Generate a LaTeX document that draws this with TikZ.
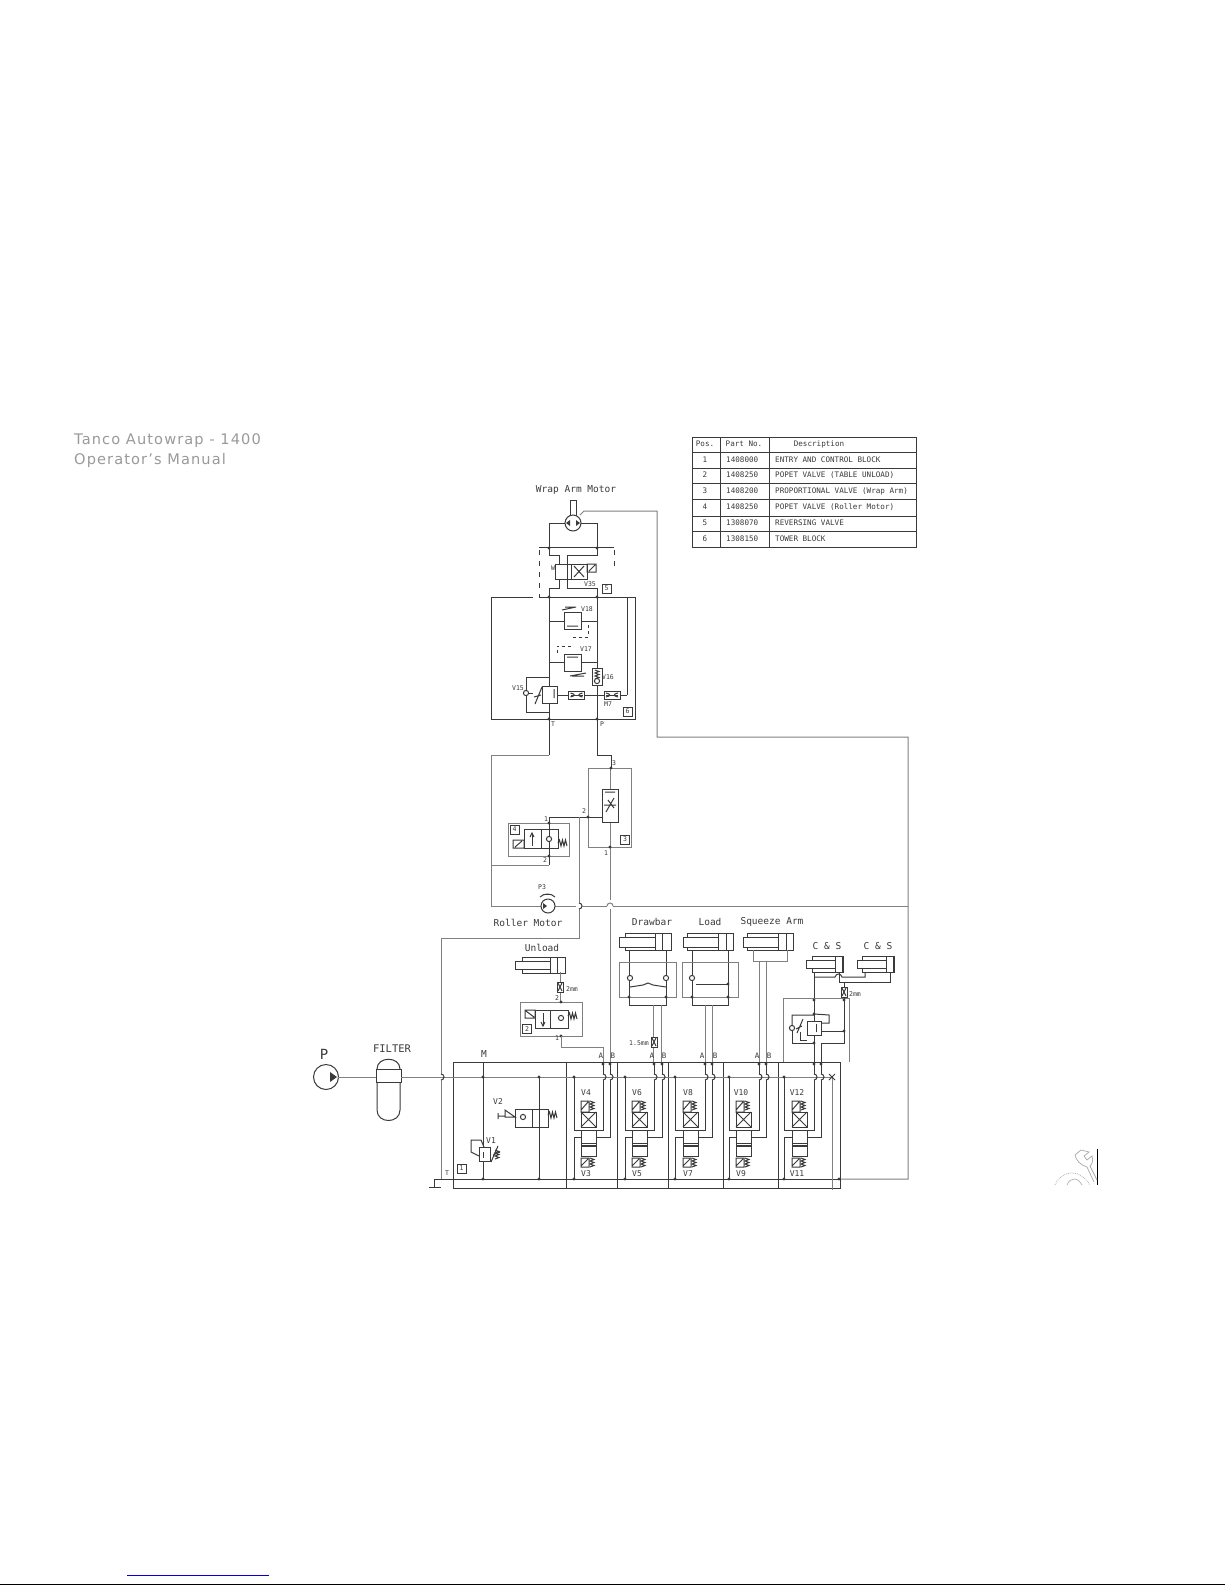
\documentclass[tikz,border=0pt]{standalone}
\usepackage{fontspec}
\setmainfont{DejaVu Sans}
\newfontfamily\cadfont{DejaVu Sans Mono}
\newfontfamily\headfont[LetterSpace=7.5]{DejaVu Sans}
\usepackage{tikz}
\definecolor{wirecol}{HTML}{3A3A3A}
\definecolor{palecol}{HTML}{808080}
\definecolor{headcol}{HTML}{9A9A9A}
\tikzset{
  wire/.style={draw=wirecol,line width=1pt},
  pale/.style={draw=palecol,line width=1pt},
  dashwire/.style={draw=wirecol,line width=1pt,dash pattern=on 5pt off 6pt},
  lbl/.style={font=\cadfont\fontsize{9.5}{10}\selectfont,text=wirecol,inner sep=0pt},
  small/.style={font=\cadfont\fontsize{6.5}{7}\selectfont,text=wirecol,inner sep=0pt},
  tab/.style={font=\cadfont\fontsize{7.6}{8}\selectfont,text=wirecol,inner sep=0pt},
  posbox/.style={draw=wirecol,line width=.8pt,fill=white,font=\cadfont\fontsize{6.5}{7}\selectfont,text=wirecol,inner sep=0pt,minimum size=9pt},
  head/.style={font=\headfont\fontsize{14.6}{16}\selectfont,text=headcol,inner sep=0pt,anchor=base west}
}
% small symbols, all in picture pixels
\newcommand{\jdot}[2]{\fill[wirecol] (#1,#2) circle (1.7);}
\newcommand{\hopv}[2]{\draw[wire] (#1,#2-3) .. controls (#1+4,#2-3) and (#1+4,#2+3) .. (#1,#2+3);}
\newcommand{\ballat}[2]{\draw[wire,fill=white] (#1,#2) circle (2.6);}
\newcommand{\springh}[2]{\draw[wire] (#1,#2) -- ++(1.5,-3) -- ++(1.5,6) -- ++(1.5,-6) -- ++(1.5,6) -- ++(1.5,-6) -- ++(1.5,6);}
\newcommand{\springv}[2]{\draw[wire] (#1,#2) -- ++(4,1.5) -- ++(-4,1.5) -- ++(4,1.5) -- ++(-4,1.5) -- ++(4,1.5) -- ++(-4,1.5);}
\newcommand{\orifice}[2]{\draw[wire,fill=white] (#1-3,#2-5) rectangle (#1+3,#2+5);
  \draw[wire] (#1-2,#2-4) -- (#1+2,#2+4) (#1+2,#2-4) -- (#1-2,#2+4);}
\newcommand{\orificeh}[2]{\draw[wire,fill=white] (#1-8,#2-4) rectangle (#1+8,#2+4);
  \draw[wire] (#1-6,#2-2) .. controls (#1-1,#2-1) and (#1-1,#2+1) .. (#1-6,#2+2)
    (#1+6,#2-2) .. controls (#1+1,#2-1) and (#1+1,#2+1) .. (#1+6,#2+2);
  \draw[wire] (#1-6,#2) -- (#1+6,#2);}
% cylinder: left of rod, left of body, piston x, right of body, top y
\newcommand{\cylinder}[5]{\draw[wire] (#2,#5) rectangle (#4,#5+16);
  \draw[wire,fill=white] (#1,#5+4) rectangle (#3,#5+12);
  \draw[wire] (#3,#5) -- (#3,#5+16) (#3+7,#5) -- (#3+7,#5+16);}
\begin{document}
\begin{tikzpicture}[x=1pt,y=-1pt]
\useasboundingbox (0,0) rectangle (1225,1585);
\fill[white] (0,0) rectangle (1225,1585);
% page furniture
\node[head] (headone) at (74,444) {Tanco Autowrap - 1400};
\node[head] (headtwo) at (74,464) {Operator’s Manual};
\draw[blue!85!black,line width=1pt] (127,1575) -- (269,1575);
\draw[black,line width=1pt] (0,1584.5) -- (1225,1584.5);
\draw[black,line width=1pt] (1097,1149) -- (1097,1185);
\draw[gray!70,line width=.7pt] (1075,1155) -- (1081,1150) -- (1089,1152) -- (1084,1156) -- (1087,1160) -- (1092,1156)
  .. controls (1094,1162) and (1091,1165) .. (1090,1166) -- (1097,1180) (1087,1167) -- (1094,1182)
  (1087,1167) .. controls (1080,1165) and (1076,1160) .. (1075,1155);
\draw[gray!60,line width=.8pt,densely dotted] (1055,1185) .. controls (1060,1172) and (1078,1166) .. (1090,1185);
\draw[gray!60,line width=.7pt] (1067,1185) .. controls (1070,1177) and (1078,1177) .. (1082,1185);
% parts table
\draw[wire] (692,437) rectangle (916,547);
\foreach \ty in {452,468,483,499,516,531} \draw[wire] (692,\ty) -- (916,\ty);
\foreach \tx in {720,769} \draw[wire] (\tx,437) -- (\tx,547);
\node[tab] (tabpos) at (705,444) {Pos.};
\node[tab] (tabno) at (744,444) {Part No.};
\node[tab] (tabdesc) at (819,444) {Description};
\foreach \ty/\pos/\partno/\desc in {460/1/1408000/ENTRY AND CONTROL BLOCK,475/2/1408250/POPET VALVE (TABLE UNLOAD),491/3/1408200/PROPORTIONAL VALVE (Wrap Arm),507/4/1408250/POPET VALVE (Roller Motor),523/5/1308070/REVERSING VALVE,539/6/1308150/TOWER BLOCK}{
  \node[tab] (pos\pos) at (705,\ty) {\pos};
  \node[tab,anchor=west] (part\pos) at (726,\ty) {\partno};
  \node[tab,anchor=west] (desc\pos) at (775,\ty) {\desc};
}
% wrap arm motor
\node[lbl] (lblwrap) at (576,490) {Wrap Arm Motor};
\draw[wire] (570,500) rectangle (576,515);
\draw[wire] (549,555) -- (549,523) -- (597,523) -- (597,555);
\draw[wire,fill=white] (573,523) circle (8);
\fill[wirecol] (570,520) -- (566,523) -- (570,526) -- cycle (576,520) -- (580,523) -- (576,526) -- cycle;
\draw[pale] (580,515) -- (584,511) -- (657,511) -- (657,737) -- (908,737) -- (908,1179) -- (841,1179);
% reversing valve V35
\draw[wire] (539,547) -- (614,547);
\draw[dashwire] (539,550) -- (539,597) (614,550) -- (614,567);
\draw[wire] (549,548) -- (549,555) -- (559,555) -- (559,564) (567,555) -- (597,555) -- (597,548);
\draw[wire] (555,564) rectangle (587,579) (571,564) -- (571,579);
\draw[wire] (574,566) -- (584,577) (584,566) -- (574,577);
\draw[wire] (587,564) rectangle (596,572) (589,571) -- (595,565);
\draw[wire] (559,579) -- (559,588) -- (549,588) -- (549,597);
\draw[wire] (567,555) -- (567,588) -- (597,588) -- (597,597);
\node[small] (lblvw) at (553,568) {W};
\node[small] (lblv35) at (590,584) {V35};
\node[posbox] (pos5box) at (606.5,588.5) {5};
% tower block
\draw[wire] (533,597) -- (491,597) -- (491,719) -- (635,719) -- (635,597) -- (539,597);
\draw[wire] (549,597) -- (549,755) (597,597) -- (597,668) (597,685) -- (597,755);
\draw[wire] (627,597) -- (627,695);
\foreach \jx in {549,597} {\jdot{\jx}{548} \jdot{\jx}{597} \jdot{\jx}{719}}
% V18
\draw[wire] (549,621) -- (564,621) (581,621) -- (597,621);
\draw[wire,fill=white] (564,612) rectangle (581,629);
\draw[wire] (567,626) -- (578,626) (562,610) -- (576,607) (565,607) -- (576,607);
\draw[dashwire,dash pattern=on 3pt off 3pt] (573,637) -- (588,637) -- (588,625);
\node[small] (lblv18) at (587,609) {V18};
% V17
\draw[wire] (549,662) -- (564,662) (581,662) -- (597,662);
\draw[wire,fill=white] (564,654) rectangle (581,671);
\draw[wire] (567,657) -- (578,657) (570,676) -- (586,673) (572,676) -- (584,676);
\draw[dashwire,dash pattern=on 3pt off 3pt] (557,653) -- (557,646) -- (573,646);
\node[small] (lblv17) at (586,649) {V17};
% V16
\draw[wire,fill=white] (592,668) rectangle (602,685);
\springv{595}{670}
\ballat{597}{681}
\node[small] (lblv16) at (608,677) {V16};
% V15
\draw[wire] (549,677) -- (526,677) -- (526,712) -- (549,712);
\ballat{526}{693}
\draw[wire] (529,693) -- (533,693);
\draw[wire,fill=white] (542,686) rectangle (557,703);
\draw[wire] (535,704) -- (542,687) (534,697) -- (541,695) (554,689) -- (554,698);
\draw[wire] (557,695) -- (627,695);
\orificeh{576.5}{695}
\orificeh{612}{695}
\node[small] (lblv15) at (518,688) {V15};
\node[small] (lblm7) at (608,704) {M7};
\node[posbox] (pos6box) at (627.5,711.5) {6};
\node[small] (lblt) at (553,724) {T};
\node[small] (lblp) at (602,724) {P};
% proportional valve and roller motor
\draw[wire] (549,719) -- (549,755);
\draw[pale] (549,755) -- (491,755) -- (491,906) -- (541,906);
\draw[wire] (597,755) -- (611,755) -- (611,768);
\draw[pale] (588,817) -- (588,768) -- (631,768) -- (631,847) -- (588,847) -- (588,817);
\draw[pale] (610,768) -- (610,789) (610,822) -- (610,900);
\draw[wire,fill=white] (602,789) rectangle (618,822);
\draw[wire] (605,792) -- (615,792) (606,812) -- (614,798) (604,805) -- (616,805) (608,800) -- (614,808);
\jdot{611}{768} \jdot{610}{847} \jdot{588}{817}
\node[small] (lbl3a) at (614,763) {3};
\node[small] (lbl2a) at (584,811) {2};
\node[small] (lbl1a) at (606,853) {1};
\node[posbox] (pos3box) at (625,839.5) {3};
\draw[wire] (549,865) -- (549,817) -- (602,817);
\draw[pale] (579,817) -- (579,903) (579,909) -- (579,938) -- (441,938) -- (441,1074) (441,1080) -- (441,1179);
\hopv{579}{906}
\draw[pale] (508,823) rectangle (569,856);
% popet valve 4
\draw[wire] (524,829) rectangle (558,848) (541,829) -- (541,848) (532,834) -- (532,846);
\draw[wire] (530,837) -- (532,833) -- (534,837);
\draw[wire] (513,848) rectangle (524,840) (515,847) -- (522,841);
\ballat{549}{839}
\springh{558}{843}
\jdot{549}{823} \jdot{549}{856}
\node[posbox] (pos4box) at (514.5,829.5) {4};
\node[small] (lbl1b) at (546,819) {1};
\node[small] (lbl2b) at (545,860) {2};
\draw[pale] (491,865) -- (549,865);
% roller motor
\draw[pale] (541,906) -- (576,906) (582,906) -- (607,906) (613,906) -- (908,906);
\draw[pale] (607,906) .. controls (607,902) and (613,902) .. (613,906);
\draw[wire,fill=white] (548,906) circle (7);
\fill[wirecol] (543,903) -- (547,906) -- (543,909) -- cycle;
\draw[wire] (540,897) .. controls (544,893) and (551,893) .. (555,897);
\draw[wire] (544,894) -- (551,894);
\node[small] (lblp3) at (542,887) {P3};
\node[lbl] (lblroller) at (528,923) {Roller Motor};
% cylinder labels and unload
\node[lbl] (lblunload) at (542,948) {Unload};
\cylinder{515}{522}{550}{565}{957}
\draw[pale] (560,972) -- (560,1003);
\orifice{560}{987}
\node[small] (lbl2mm) at (572,989) {2mm};
\node[small] (lbl2c) at (557,998) {2};
\draw[pale] (520,1002) rectangle (582,1036);
\draw[wire] (535,1010) rectangle (568,1028) (550,1010) -- (550,1028) (543,1013) -- (543,1026);
\draw[wire] (541,1022) -- (543,1026) -- (545,1022);
\draw[wire] (525,1010) rectangle (535,1018) (526,1011) -- (534,1017);
\ballat{561}{1018}
\springh{568}{1016}
\jdot{561}{1002} \jdot{561}{1036}
\node[posbox] (pos2box) at (527,1029) {2};
\node[small] (lbl1c) at (557,1038) {1};
\draw[pale] (561,1036) -- (561,1047) -- (603,1047) -- (603,1062);
% drawbar
\node[lbl] (lbldrawbar) at (652,922) {Drawbar};
\draw[wire] (625,933) rectangle (671,950);
\draw[wire,fill=white] (619,937) rectangle (655,947);
\draw[wire] (655,933) -- (655,950) (662,933) -- (662,950);
\draw[wire] (629,950) -- (629,1005) -- (666,1005) -- (666,950);
\draw[pale] (619,962) rectangle (676,997);
\ballat{630}{978} \ballat{666}{978}
\draw[wire] (630,987) -- (643,985) -- (648,983) -- (653,985) -- (666,987);
\jdot{629}{997} \jdot{666}{997}
\draw[pale] (653,1005) -- (653,1062) (661,1005) -- (661,1062);
\orifice{654}{1042}
\node[small] (lbl15mm) at (639,1043) {1.5mm};
% load
\node[lbl] (lblload) at (710,922) {Load};
\draw[wire] (687,933) rectangle (733,950);
\draw[wire,fill=white] (683,937) rectangle (718,947);
\draw[wire] (718,933) -- (718,950) (726,933) -- (726,950);
\draw[wire] (692,950) -- (692,1005) -- (728,1005) -- (728,950);
\draw[pale] (682,962) rectangle (738,997);
\ballat{692}{978}
\draw[wire] (696,984) -- (728,984);
\jdot{728}{984} \jdot{692}{997} \jdot{728}{997}
\draw[pale] (705,1005) -- (705,1062) (712,1005) -- (712,1062);
% squeeze arm
\node[lbl] (lblsqueeze) at (772,922) {Squeeze Arm};
\draw[wire] (747,933) rectangle (793,950);
\draw[wire,fill=white] (743,937) rectangle (778,947);
\draw[wire] (778,933) -- (778,950) (786,933) -- (786,950);
\draw[pale] (753,950) -- (753,961) -- (787,961) -- (787,950);
\draw[pale] (759,961) -- (759,1062) (766,961) -- (766,1062);
% C & S cylinders
\node[lbl] (lblcsone) at (827,946) {C \& S};
\node[lbl] (lblcstwo) at (878,946) {C \& S};
\cylinder{806}{812}{835}{843}{956}
\cylinder{857}{862}{886}{894}{956}
\draw[wire] (814,972) -- (814,1062);
\draw[wire] (814,977) -- (835,977) .. controls (836,973) and (841,973) .. (842,977) -- (865,977) -- (865,972);
\draw[wire] (839,972) -- (839,982) -- (890,982) -- (890,972);
\draw[wire] (844,982) -- (844,998);
\orifice{844}{992}
\node[small] (lbl2mmb) at (855,994) {2mm};
\draw[pale] (783,1062) -- (783,998) -- (849,998) -- (849,1062);
\jdot{814}{1000} \jdot{844}{1000} \jdot{814}{1014} \jdot{814}{1043} \jdot{844}{1031}
\draw[wire] (844,998) -- (844,1043) -- (821,1043) -- (821,1062);
\draw[wire] (821,1031) -- (844,1031);
\draw[wire] (792,1025) -- (792,1015) -- (814,1015) (814,1014) -- (829,1015) -- (829,1023) -- (821,1023);
\draw[wire] (792,1031) -- (792,1043) -- (814,1043);
\draw[wire] (800,1032) -- (800,1040) -- (807,1040);
\draw[wire,fill=white] (807,1021) rectangle (821,1035);
\draw[wire] (816,1024) -- (816,1032);
\ballat{792}{1028}
\draw[wire] (797,1033) -- (803,1019) (796,1029) -- (802,1026);
% manifold
\draw[wire] (453,1062) rectangle (840,1188);
\draw[wire] (434,1179) -- (841,1179);
\foreach \mx in {566,617,668,723,778} \draw[wire] (\mx,1062) -- (\mx,1188);
\draw[pale] (832,1077) -- (832,1190);
\jdot{839}{1179}
\draw[wire] (434,1179) -- (434,1187) (429,1187) -- (441,1187);
\node[small] (lblt2) at (447,1173) {T};
\node[lbl] (lblm) at (484,1054) {M};
\node[posbox] (pos1box) at (461.5,1168.5) {1};
% pump, filter, pressure line
\draw[wire] (326,1077) circle (12.5);
\fill[wirecol] (330,1072) -- (337,1077) -- (330,1082) -- cycle;
\node[lbl,font=\cadfont\fontsize{14}{14}\selectfont] (lblpump) at (324,1054) {P};
\node[lbl,font=\cadfont\fontsize{10.5}{11}\selectfont] (lblfilter) at (392,1049) {FILTER};
\draw[wire] (377,1069) .. controls (377,1056) and (400,1056) .. (400,1069) -- (400,1110) .. controls (400,1124) and (377,1124) .. (377,1110) -- cycle;
\draw[wire,fill=white] (376,1069) rectangle (401,1082);
\draw[pale] (338,1077) -- (376,1077) (401,1077) -- (832,1077);
\hopv{441}{1077}
\foreach \jx in {483,539} {\jdot{\jx}{1077} \jdot{\jx}{1179}}
\draw[wire] (483,1062) -- (483,1179) (539,1077) -- (539,1179);
% V2
\draw[wire,fill=white] (515,1109) rectangle (548,1127) (532,1109) -- (532,1127);
\draw[wire] (539,1109) -- (539,1127);
\ballat{523}{1117}
\draw[wire] (505,1110) -- (515,1117) -- (505,1117) -- cycle (498,1113) -- (498,1119) (498,1116) -- (505,1116);
\springh{548}{1115}
\node[small,font=\cadfont\fontsize{8}{8}\selectfont] (lblv2) at (498,1102) {V2};
% V1
\draw[wire] (484,1147) -- (481,1140) -- (471,1140) -- (471,1152) -- (479,1156);
\draw[wire,fill=white] (479,1147) rectangle (490,1161);
\draw[wire] (483,1152) -- (483,1158);
\draw[wire] (491,1162) -- (498,1146) (493,1155) -- (500,1152);
\springv{495}{1150}
\node[small,font=\cadfont\fontsize{8}{8}\selectfont] (lblv1) at (491,1141) {V1};
% directional sections
\foreach \lx/\ax/\bx/\vx/\up/\dn in {574/603/610/581/V4/V3,625/654/662/632/V6/V5,675/705/712/683/V8/V7,729/759/766/736/V10/V9,784/814/821/792/V12/V11}{
  \draw[wire] (\lx,1077) -- (\lx,1130) -- (\ax,1130) -- (\ax,1080);
  \draw[wire] (\ax,1074) -- (\ax,1062);
  \draw[wire] (\lx,1179) -- (\lx,1137) -- (\bx,1137) -- (\bx,1080);
  \draw[wire] (\bx,1074) -- (\bx,1062);
  \hopv{\ax}{1077} \hopv{\bx}{1077}
  \jdot{\lx}{1077} \jdot{\lx}{1179} \jdot{\ax}{1064} \jdot{\bx}{1064}
  \draw[wire,fill=white] (\vx,1112) rectangle ++(15,15);
  \draw[wire] (\vx,1112) -- ++(15,15) (\vx,1127) -- ++(15,-15);
  \draw[wire] (\vx,1101) rectangle ++(8,11) (\vx,1110) -- ++(7,-8);
  \springv{\vx+9}{1101}
  \draw[wire,fill=white] (\vx,1130) rectangle ++(15,26);
  \draw[wire] (\vx,1143) -- ++(15,0);
  \draw[wire,line width=1.4pt] (\vx,1146) -- ++(15,0);
  \draw[wire] (\vx,1158) rectangle ++(8,9) (\vx,1166) -- ++(7,-7);
  \springv{\vx+9}{1158}
  \node[lbl,font=\cadfont\fontsize{8}{8}\selectfont] (lbl\up) at (\vx+5,1093) {\up};
  \node[lbl,font=\cadfont\fontsize{8}{8}\selectfont] (lbl\dn) at (\vx+5,1174) {\dn};
}
\foreach \ax/\bx/\sect in {601/613/a,652/664/b,702/715/c,757/769/d}{
  \node[small,font=\cadfont\fontsize{7.5}{8}\selectfont] (lblA\sect) at (\ax,1056) {A};
  \node[small,font=\cadfont\fontsize{7.5}{8}\selectfont] (lblB\sect) at (\bx,1056) {B};
}
\draw[pale] (610,909) -- (610,1062);
\draw[wire] (829,1074) -- (835,1080) (835,1074) -- (829,1080);
\end{tikzpicture}
\end{document}
